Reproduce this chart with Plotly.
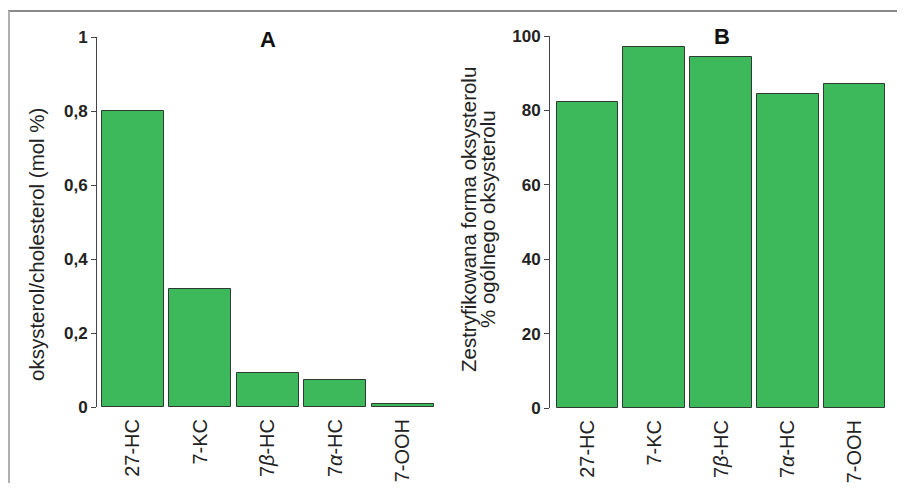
import plotly.graph_objects as go

categories = ["27-HC", "7-KC", "7<i>β</i>-HC", "7<i>α</i>-HC", "7-OOH"]
values_a = [0.80, 0.32, 0.092, 0.073, 0.008]
values_b = [82.3, 97.0, 94.4, 84.4, 87.1]
ticks_a = [0, 0.2, 0.4, 0.6, 0.8, 1]
ticklabels_a = ["0", "0,2", "0,4", "0,6", "0,8", "1"]
ticks_b = [0, 20, 40, 60, 80, 100]

# page body has an 8px default margin: the figure is sized/offset to fill the window
OFF = 8
W, H = 905 - 2 * OFF, 491 - 2 * OFF
GREEN = "#3db85a"
EDGE = "#2f3a33"
FONT = "Liberation Sans, Arial, sans-serif"

def px(x):
    return (x - OFF) / W

def py(y):
    return 1 - (y - OFF) / H

fig = go.Figure()
fig.add_trace(go.Bar(x=list(range(5)), y=values_a, width=0.92,
                     marker=dict(color=GREEN, line=dict(color=EDGE, width=1)),
                     xaxis="x", yaxis="y", showlegend=False))
fig.add_trace(go.Bar(x=list(range(5)), y=values_b, width=0.92,
                     marker=dict(color=GREEN, line=dict(color=EDGE, width=1)),
                     xaxis="x2", yaxis="y2", showlegend=False))

xcommon = dict(tickmode="array", tickvals=list(range(5)), ticktext=categories,
               tickangle=-90, showgrid=False, zeroline=False, showline=False,
               ticks="outside", ticklen=3, tickcolor="rgba(0,0,0,0)", automargin=False,
               tickfont=dict(family=FONT, size=20, color="#222"))
ycommon = dict(showgrid=False, zeroline=False, showline=True, linecolor="#444",
               linewidth=1, ticks="outside", ticklen=5, tickcolor="#444",
               automargin=False,
               tickfont=dict(family=FONT, size=17, color="#222", weight="bold"))

def ann(text, x, y, size, bold=False, angle=0):
    return dict(text=text, x=px(x), y=py(y), xref="paper", yref="paper",
                xanchor="center", yanchor="middle", showarrow=False, textangle=angle,
                font=dict(family=FONT, size=size, color="#111" if bold else "#222",
                          weight="bold" if bold else "normal"))

fig.update_layout(
    width=W, height=H,
    margin=dict(l=0, r=0, t=0, b=0, autoexpand=False),
    paper_bgcolor="white", plot_bgcolor="white",
    bargap=0,
    xaxis=dict(domain=[px(97), px(438)], range=[-0.53, 4.52], anchor="y", **xcommon),
    yaxis=dict(domain=[py(407), py(37)], range=[0, 1], anchor="x",
               tickmode="array", tickvals=ticks_a, ticktext=ticklabels_a, **ycommon),
    xaxis2=dict(domain=[px(550), px(888)], range=[-0.56, 4.5], anchor="y2", **xcommon),
    yaxis2=dict(domain=[py(408), py(36)], range=[0, 100], anchor="x2",
                tickmode="array", tickvals=ticks_b, **ycommon),
    annotations=[
        ann("A", 268, 40, 22, bold=True),
        ann("B", 722, 37, 22, bold=True),
        ann("oksysterol/cholesterol (mol %)", 37, 245, 20.5, angle=-90),
        ann("Zestryfikowana forma oksysterolu", 468, 220, 20.5, angle=-90),
        ann("% ogólnego oksysterolu", 487, 219, 20.5, angle=-90),
    ],
    shapes=[
        dict(type="line", xref="paper", yref="paper", x0=px(8), x1=1, y0=py(11), y1=py(11),
             line=dict(color="#8a8a8a", width=2)),
        dict(type="line", xref="paper", yref="paper", x0=px(9), x1=px(9), y0=py(11), y1=0,
             line=dict(color="#b0b0b0", width=2)),
    ],
)

fig.write_html("out.html")
